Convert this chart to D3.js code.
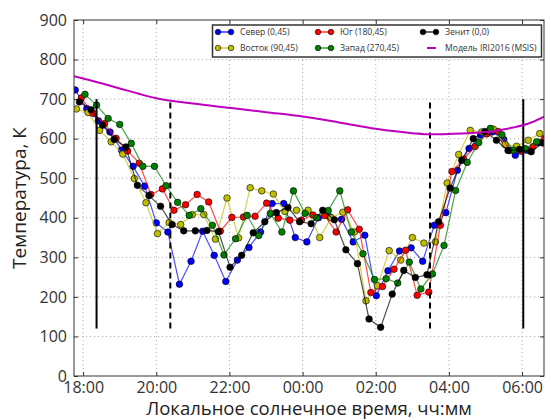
<!DOCTYPE html>
<html>
<head>
<meta charset="utf-8">
<script src="https://cdn.jsdelivr.net/npm/d3@7"></script>
<style>
    body { margin: 0; background: #fff; }
    text { font-family: "Open Sans", sans-serif; }
</style>
</head>
<body>
<div id="chart"></div>
<script>
// Observation slots, local solar time (north channel)
let slotTimes = ['17:47', '18:06', '18:25', '18:44', '19:03', '19:22', '19:41', '20:00', '20:19', '20:38',
    '20:57', '21:16', '21:35', '21:54', '22:13', '22:32', '22:51', '23:10', '23:29', '23:48',
    '00:07', '00:26', '00:45', '01:04', '01:23', '01:42', '02:01', '02:20', '02:39', '02:58',
    '03:17', '03:36', '03:55', '04:14', '04:33', '04:52', '05:11', '05:30', '05:49', '06:08', '06:27'];

// Minutes each direction is shifted from the slot
let shiftNorth = 0;
let shiftEast = 2;
let shiftSouth = 10;
let shiftWest = -3;
let shiftZenith = 7;

// Temperatures, K
let tempNorth = [723, 676, 645, 617, 571, 530, 480, 387, 364, 232, 290, 366, 305, 239, 293, 325, 364, 436, 436, 350,
    339, 400, 402, 396, 339, 356, 203, 266, 316, 324, 290, 381, 413, 520, 575, 609, 617, 598, 558, 571, 590];
let tempEast = [675, 666, 621, 592, 561, 499, 438, 360, 388, 383, 408, 408, 346, 450, 349, 476, 468, 460, 416, 419,
    419, 350, 400, 414, 364, 190, 228, 317, 293, 350, 336, 339, 488, 560, 621, 617, 624, 585, 581, 596, 613];
let tempSouth = [703, 664, 638, 601, 569, 538, 459, 473, 419, 433, 459, 440, 366, 401, 402, 404, 437, 399, 394, 394,
    407, 406, 364, 420, 371, 211, 226, 270, 318, 204, 212, 381, 517, 548, 580, 612, 618, 570, 568, 580, 600];
let tempWest = [null, 712, 685, 651, 636, 588, 530, 530, 481, 439, 406, 423, 381, 306, 347, 406, 355, 411, 364, 468,
    411, 400, 418, 468, 364, 309, 244, 246, 235, 288, 220, 258, 330, 469, 540, 590, 626, 610, 571, 575, 592];
let tempZenith = [693, 673, 634, 598, 579, 482, 456, 429, 383, 367, 367, 368, 365, 275, 305, 362, 390, 413, 426, 390,
    385, 419, 395, 319, 284, 144, 123, 207, 267, 249, 256, 390, 475, 545, 600, 618, 596, 570, 573, 567, 589];

// IRI2016 (MSIS) model
let modelTimes = ['17:45', '18:30', '19:00', '19:30', '20:00', '21:00', '22:00', '23:00', '00:00', '01:00',
    '02:00', '03:00', '03:30', '04:00', '05:00', '05:45', '06:15', '06:36'];
let modelTemp = [758, 740, 727, 714, 702, 689, 678, 667, 656, 641, 625, 614, 611, 612, 617, 628, 641, 656];

// Vertical markers
let solidTimes = ['18:22', '06:02'];
let dashedTimes = ['20:23', '03:29'];
let markerRange = [120, 700];

let xTickLabels = ['18:00', '20:00', '22:00', '00:00', '02:00', '04:00', '06:00'];
let yTickValues = [0, 100, 200, 300, 400, 500, 600, 700, 800, 900];
let xLimits = ['17:45', '06:36'];

let svgWidth = 551;
let svgHeight = 420;
let plot = { left: 74, right: 544, top: 20, bottom: 376 };

// 'HH:MM' -> hours, past midnight continues above 24
function toHours(s) {
    let parts = s.split(':');
    let h = +parts[0] + parts[1] / 60;
    return h < 12 ? h + 24 : h;
};

let svg = d3.select('#chart')
    .append('svg')
    .attr('width', svgWidth)
    .attr('height', svgHeight);

let x = d3.scaleLinear()
    .domain(xLimits.map(toHours))
    .range([plot.left, plot.right]);

let y = d3.scaleLinear()
    .domain([0, 900])
    .range([plot.bottom, plot.top]);

svg.append('clipPath')
    .attr('id', 'clip')
    .append('rect')
    .attr('x', plot.left)
    .attr('y', plot.top)
    .attr('width', plot.right - plot.left)
    .attr('height', plot.bottom - plot.top);

// Grid
let grid = svg.append('g')
    .attr('stroke', '#9a9a9a')
    .attr('stroke-width', 0.8)
    .attr('stroke-dasharray', '1.2,2.8');

grid.selectAll('.gx')
    .data(xTickLabels.map(toHours))
    .enter()
    .append('line')
    .attr('x1', d => x(d))
    .attr('x2', d => x(d))
    .attr('y1', plot.top)
    .attr('y2', plot.bottom);

grid.selectAll('.gy')
    .data(yTickValues.slice(1, -1))
    .enter()
    .append('line')
    .attr('x1', plot.left)
    .attr('x2', plot.right)
    .attr('y1', d => y(d))
    .attr('y2', d => y(d));

// Axes, ticks pointing inward
function styleAxis(g) {
    g.attr('font-family', '"Open Sans", sans-serif')
        .attr('font-size', 16);
    g.select('.domain').remove();
    g.selectAll('.tick line').attr('stroke', '#333');
    g.selectAll('.tick text').attr('fill', '#333');
};

let xTicks = xTickLabels.map(toHours);

svg.append('g')
    .attr('transform', `translate(0, ${plot.bottom})`)
    .call(d3.axisBottom(x).tickValues(xTicks).tickFormat((d, i) => xTickLabels[i])
        .tickSizeInner(-4).tickSizeOuter(0).tickPadding(6))
    .call(styleAxis);

svg.append('g')
    .attr('transform', `translate(0, ${plot.top})`)
    .call(d3.axisTop(x).tickValues(xTicks).tickFormat('')
        .tickSizeInner(-4).tickSizeOuter(0))
    .call(styleAxis);

svg.append('g')
    .attr('transform', `translate(${plot.left}, 0)`)
    .call(d3.axisLeft(y).tickValues(yTickValues)
        .tickSizeInner(-4).tickSizeOuter(0).tickPadding(7))
    .call(styleAxis);

svg.append('g')
    .attr('transform', `translate(${plot.right}, 0)`)
    .call(d3.axisRight(y).tickValues(yTickValues).tickFormat('')
        .tickSizeInner(-4).tickSizeOuter(0))
    .call(styleAxis);

// Series
let seriesList = [
    { name: 'Север (0,45)', values: tempNorth, shift: shiftNorth, color: '#0000ff' },
    { name: 'Восток (90,45)', values: tempEast, shift: shiftEast, color: '#bfbf00' },
    { name: 'Юг (180,45)', values: tempSouth, shift: shiftSouth, color: '#ff0000' },
    { name: 'Запад (270,45)', values: tempWest, shift: shiftWest, color: '#008000' },
    { name: 'Зенит (0,0)', values: tempZenith, shift: shiftZenith, color: '#000000' }
];

let dataLayer = svg.append('g')
    .attr('clip-path', 'url(#clip)');

let line = d3.line()
    .defined(d => d.v != null)
    .x(d => x(d.t))
    .y(d => y(d.v));

seriesList.forEach(s => {
    let pts = slotTimes.map((t, i) => ({ t: toHours(t) + s.shift / 60, v: s.values[i] }));

    dataLayer.append('path')
        .datum(pts)
        .attr('fill', 'none')
        .attr('stroke', s.color)
        .attr('stroke-opacity', 0.7)
        .attr('stroke-width', 1.2)
        .attr('d', line);

    dataLayer.selectAll(null)
        .data(pts.filter(d => d.v != null))
        .enter()
        .append('circle')
        .attr('cx', d => x(d.t))
        .attr('cy', d => y(d.v))
        .attr('r', 3.3)
        .attr('fill', s.color)
        .attr('stroke', '#000')
        .attr('stroke-width', 0.6);
});

// Vertical markers
dataLayer.selectAll('.solid')
    .data(solidTimes.map(toHours))
    .enter()
    .append('line')
    .attr('x1', d => x(d))
    .attr('x2', d => x(d))
    .attr('y1', y(markerRange[0]))
    .attr('y2', y(markerRange[1]))
    .attr('stroke', '#000')
    .attr('stroke-width', 2);

dataLayer.selectAll('.dashed')
    .data(dashedTimes.map(toHours))
    .enter()
    .append('line')
    .attr('x1', d => x(d))
    .attr('x2', d => x(d))
    .attr('y1', y(markerRange[0]))
    .attr('y2', y(markerRange[1]))
    .attr('stroke', '#000')
    .attr('stroke-width', 2)
    .attr('stroke-dasharray', '6,4');

// Model curve
let modelPts = modelTimes.map((t, i) => ({ t: toHours(t), v: modelTemp[i] }));

dataLayer.append('path')
    .datum(modelPts)
    .attr('fill', 'none')
    .attr('stroke', '#bf00bf')
    .attr('stroke-width', 2)
    .attr('d', line.curve(d3.curveMonotoneX));

// Frame
svg.append('rect')
    .attr('x', plot.left)
    .attr('y', plot.top)
    .attr('width', plot.right - plot.left)
    .attr('height', plot.bottom - plot.top)
    .attr('fill', 'none')
    .attr('stroke', '#333')
    .attr('stroke-width', 1);

// Axis labels
svg.append('text')
    .attr('x', (plot.left + plot.right) / 2)
    .attr('y', 414.5)
    .attr('text-anchor', 'middle')
    .attr('font-size', 18.5)
    .attr('fill', '#222')
    .text('Локальное солнечное время, чч:мм');

svg.append('text')
    .attr('transform', `translate(26, ${(plot.top + plot.bottom) / 2}) rotate(-90)`)
    .attr('text-anchor', 'middle')
    .attr('font-size', 19)
    .attr('fill', '#222')
    .text('Температура, К');

// Legend, filled column by column
let legend = svg.append('g');

legend.append('rect')
    .attr('x', 212.5)
    .attr('y', 25)
    .attr('width', 329)
    .attr('height', 32)
    .attr('fill', '#fff')
    .attr('stroke', '#333')
    .attr('stroke-width', 1.5);

let legendItems = seriesList.map(s => ({ name: s.name, color: s.color, marker: true }));
legendItems.push({ name: 'Модель IRI2016 (MSIS)', color: '#bf00bf', marker: false });

let colX = [218, 318, 423];
let rowY = [32, 48];

legendItems.forEach((item, i) => {
    let cx = colX[Math.floor(i / 2)];
    let cy = rowY[i % 2];
    let g = legend.append('g');

    if (item.marker) {
        g.append('line')
            .attr('x1', cx).attr('x2', cx + 13)
            .attr('y1', cy).attr('y2', cy)
            .attr('stroke', item.color)
            .attr('stroke-width', 1.2);
        [cx, cx + 13].forEach(px => {
            g.append('circle')
                .attr('cx', px)
                .attr('cy', cy)
                .attr('r', 2.8)
                .attr('fill', item.color)
                .attr('stroke', '#000')
                .attr('stroke-width', 0.6);
        });
    } else {
        g.append('line')
            .attr('x1', cx + 4).attr('x2', cx + 13)
            .attr('y1', cy).attr('y2', cy)
            .attr('stroke', item.color)
            .attr('stroke-width', 2);
    };

    g.append('text')
        .attr('x', cx + 22)
        .attr('y', cy + 3.2)
        .attr('font-size', 8.6)
        .attr('fill', '#333')
        .text(item.name);
});
</script>
</body>
</html>
